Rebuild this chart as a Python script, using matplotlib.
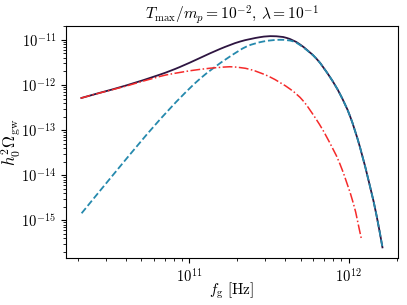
import numpy as np
import matplotlib
matplotlib.use('Agg')
import matplotlib.pyplot as plt
from matplotlib.path import Path
from matplotlib.patches import PathPatch

plt.rcParams['mathtext.fontset'] = 'cm'
plt.rcParams['font.family'] = 'serif'
plt.rcParams['font.serif'] = ['cmr10', 'DejaVu Serif']
plt.rcParams['axes.formatter.use_mathtext'] = True

# total spectrum (solid)
f_tot = [2.08e10, 2.75e10, 4.05e10, 6.55e10, 8.74e10, 1.167e11, 1.558e11, 2.08e11,
         2.777e11, 3.365e11, 4.083e11, 4.95e11, 6.30e11, 7.63e11, 8.82e11, 1.019e12,
         1.177e12, 1.36e12, 1.499e12, 1.634e12]
om_tot = [5.10e-13, 6.72e-13, 9.85e-13, 1.70e-12, 2.51e-12, 3.97e-12, 6.28e-12, 9.17e-12,
          1.148e-11, 1.208e-11, 1.107e-11, 7.95e-12, 3.79e-12, 1.51e-12, 6.35e-13, 2.07e-13,
          4.24e-14, 5.79e-15, 1.252e-15, 2.41e-16]

# dashed component
f_dash = [2.113e10, 3.18e10, 5.40e10, 7.57e10, 8.74e10, 1.01e11, 1.167e11, 1.415e11,
          1.80e11, 2.292e11, 2.913e11, 3.707e11, 4.493e11, 5.19e11, 6.30e11, 7.63e11,
          8.82e11, 1.019e12, 1.177e12, 1.36e12, 1.499e12, 1.634e12]
om_dash = [1.437e-15, 8.37e-15, 7.91e-14, 3.00e-13, 5.12e-13, 8.54e-13, 1.37e-12, 2.36e-12,
           4.28e-12, 7.14e-12, 9.21e-12, 1.005e-11, 9.26e-12, 6.82e-12, 3.79e-12, 1.51e-12,
           6.35e-13, 2.07e-13, 4.24e-14, 5.79e-15, 1.252e-15, 2.41e-16]

# dash-dot component
f_dd = [2.083e10, 2.75e10, 4.05e10, 6.55e10, 8.74e10, 1.167e11, 1.558e11, 1.888e11,
        2.403e11, 3.208e11, 4.282e11, 5.19e11, 6.30e11, 7.28e11, 8.82e11, 1.069e12, 1.20e12]
om_dd = [5.10e-13, 6.68e-13, 9.55e-13, 1.55e-12, 1.90e-12, 2.22e-12, 2.46e-12, 2.52e-12,
         2.22e-12, 1.51e-12, 8.19e-13, 4.44e-13, 1.68e-13, 7.07e-14, 1.78e-14, 2.43e-15, 4.01e-16]

xticks = [1e11, 1e12]
yticks = [1e-15, 1e-14, 1e-13, 1e-12, 1e-11]


def smooth_path(x, y):
    # catmull-rom through the points in log space, drawn as bezier segments
    lx, ly = np.log10(x), np.log10(y)
    p = np.column_stack([lx, ly])
    p = np.vstack([2 * p[0] - p[1], p, 2 * p[-1] - p[-2]])
    verts = [p[1]]
    codes = [Path.MOVETO]
    for i in range(1, len(p) - 2):
        c1 = p[i] + (p[i + 1] - p[i - 1]) / 6
        c2 = p[i + 1] - (p[i + 2] - p[i]) / 6
        verts += [c1, c2, p[i + 1]]
        codes += [Path.CURVE4] * 3
    return Path(10 ** np.array(verts), codes)


fig = plt.figure(figsize=(4.07, 3.05), dpi=100)
ax = fig.add_axes([0.162, 0.154, 0.815, 0.761])

ax.add_patch(PathPatch(smooth_path(f_tot, om_tot), fill=False, ec='#2e1541', lw=1.3))
ax.add_patch(PathPatch(smooth_path(f_dash, om_dash), fill=False, ec='#2589ad', lw=1.3, ls='--'))
ax.add_patch(PathPatch(smooth_path(f_dd, om_dd), fill=False, ec='#f52a2a', lw=1.1, ls='-.'))

ax.set_xscale('log')
ax.set_yscale('log')
ax.set_xlim(1.685e10, 2.03e12)
ax.set_ylim(1.465e-16, 2.04e-11)
ax.set_xticks(xticks)
ax.set_yticks(yticks)
ax.tick_params(labelsize=10.5)

ax.set_title(r'$T_{\rm max}/m_p = 10^{-2},\, \lambda = 10^{-1}$', fontsize=11.2, pad=3)
ax.set_xlabel(r'$f_{\rm g}\ [{\rm Hz}]$', fontsize=11)
ax.set_ylabel(r'$h_0^2\Omega_{\rm gw}$', fontsize=12)
ax.xaxis.set_label_coords(0.5, -0.095)
ax.yaxis.set_label_coords(-0.13, 0.5)

fig.savefig('out.png', dpi=100)
